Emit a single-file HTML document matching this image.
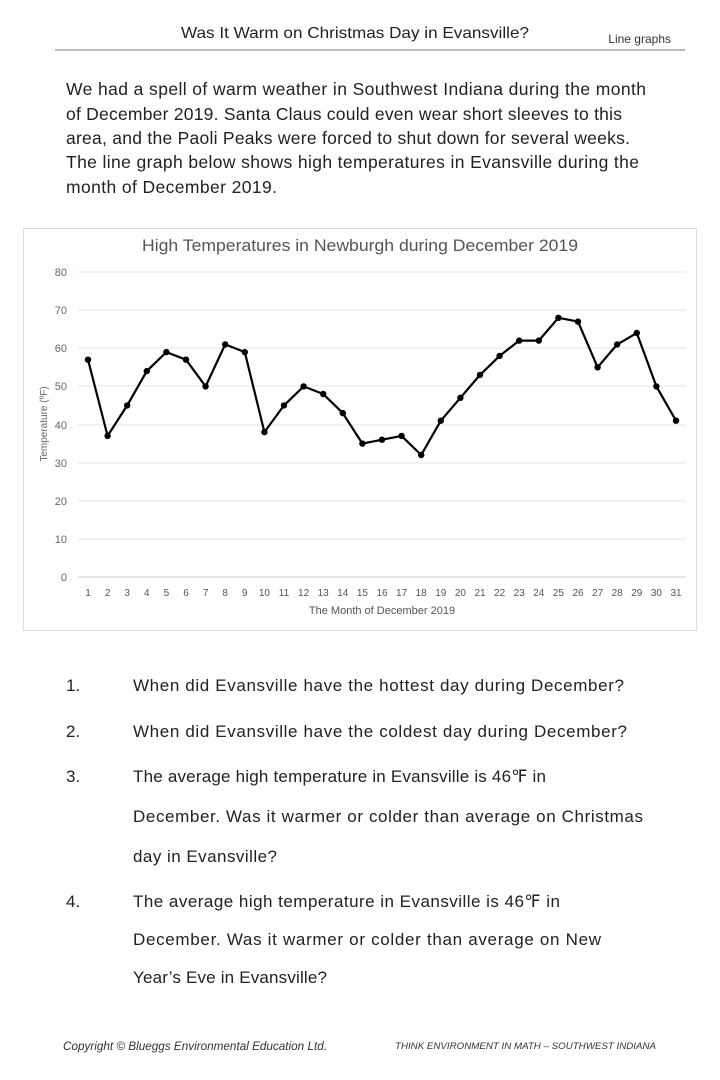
<!DOCTYPE html>
<html><head><meta charset="utf-8"><style>
html,body{margin:0;padding:0;background:#fff}
svg{display:block}
text{font-family:"Liberation Sans",sans-serif}
</style></head><body>
<svg width="720" height="1080" viewBox="0 0 720 1080" xmlns="http://www.w3.org/2000/svg">
<text x="181" y="38" font-size="16" textLength="348" lengthAdjust="spacingAndGlyphs" fill="#222">Was It Warm on Christmas Day in Evansville?</text>
<text x="671" y="43" font-size="12" text-anchor="end" fill="#333">Line graphs</text>
<line x1="55" y1="50" x2="685" y2="50" stroke="#777" stroke-width="1"/>
<g font-size="17.5" fill="#222" lengthAdjust="spacingAndGlyphs">
<text x="66" y="95" textLength="580">We had a spell of warm weather in Southwest Indiana during the month</text>
<text x="66" y="120" textLength="556">of December 2019. Santa Claus could even wear short sleeves to this</text>
<text x="66" y="144" textLength="564">area, and the Paoli Peaks were forced to shut down for several weeks.</text>
<text x="66" y="168" textLength="573">The line graph below shows high temperatures in Evansville during the</text>
<text x="66" y="193" textLength="211">month of December 2019.</text>
</g>
<rect x="23.5" y="228.5" width="673" height="402" fill="#fff" stroke="#ddd"/>
<text x="142" y="251" font-size="17" textLength="436" lengthAdjust="spacingAndGlyphs" fill="#555">High Temperatures in Newburgh during December 2019</text>
<g stroke="#e4e4e4" stroke-width="1">
<line x1="78" x2="686" y1="272" y2="272"/><line x1="78" x2="686" y1="310" y2="310"/>
<line x1="78" x2="686" y1="348" y2="348"/><line x1="78" x2="686" y1="386" y2="386"/>
<line x1="78" x2="686" y1="425" y2="425"/><line x1="78" x2="686" y1="463" y2="463"/>
<line x1="78" x2="686" y1="501" y2="501"/><line x1="78" x2="686" y1="539" y2="539"/>
<line x1="78" x2="686" y1="577" y2="577" stroke="#ccc"/>
</g>
<g font-size="11" fill="#666" text-anchor="end">
<text x="67" y="276">80</text><text x="67" y="314">70</text><text x="67" y="352">60</text>
<text x="67" y="390">50</text><text x="67" y="429">40</text><text x="67" y="467">30</text>
<text x="67" y="505">20</text><text x="67" y="543">10</text><text x="67" y="581">0</text>
</g>
<text transform="translate(47,424) rotate(-90)" font-size="10" fill="#666" text-anchor="middle">Temperature (ºF)</text>
<g font-size="10" fill="#555" text-anchor="middle">
<text x="88" y="596">1</text><text x="107.6" y="596">2</text><text x="127.2" y="596">3</text><text x="146.8" y="596">4</text><text x="166.4" y="596">5</text><text x="186" y="596">6</text><text x="205.6" y="596">7</text><text x="225.2" y="596">8</text><text x="244.8" y="596">9</text><text x="264.4" y="596">10</text><text x="284" y="596">11</text><text x="303.6" y="596">12</text><text x="323.2" y="596">13</text><text x="342.8" y="596">14</text><text x="362.4" y="596">15</text><text x="382" y="596">16</text><text x="401.6" y="596">17</text><text x="421.2" y="596">18</text><text x="440.8" y="596">19</text><text x="460.4" y="596">20</text><text x="480" y="596">21</text><text x="499.6" y="596">22</text><text x="519.2" y="596">23</text><text x="538.8" y="596">24</text><text x="558.4" y="596">25</text><text x="578" y="596">26</text><text x="597.6" y="596">27</text><text x="617.2" y="596">28</text><text x="636.8" y="596">29</text><text x="656.4" y="596">30</text><text x="676" y="596">31</text>
</g>
<text x="382" y="614" font-size="11" fill="#555" text-anchor="middle">The Month of December 2019</text>
<polyline fill="none" stroke="#000" stroke-width="2.2" stroke-linejoin="round" points="88,359.7 107.6,435.9 127.2,405.4 146.8,371.1 166.4,352.1 186,359.7 205.6,386.4 225.2,344.4 244.8,352.1 264.4,432.1 284,405.4 303.6,386.4 323.2,394 342.8,413.1 362.4,443.6 382,439.7 401.6,435.9 421.2,455 440.8,420.7 460.4,397.8 480,374.9 499.6,355.9 519.2,340.6 538.8,340.6 558.4,317.8 578,321.6 597.6,367.3 617.2,344.4 636.8,333 656.4,386.4 676,420.7"/>
<g fill="#000">
<circle cx="88" cy="359.7" r="3.2"/><circle cx="107.6" cy="435.9" r="3.2"/><circle cx="127.2" cy="405.4" r="3.2"/><circle cx="146.8" cy="371.1" r="3.2"/><circle cx="166.4" cy="352.1" r="3.2"/><circle cx="186" cy="359.7" r="3.2"/><circle cx="205.6" cy="386.4" r="3.2"/><circle cx="225.2" cy="344.4" r="3.2"/><circle cx="244.8" cy="352.1" r="3.2"/><circle cx="264.4" cy="432.1" r="3.2"/><circle cx="284" cy="405.4" r="3.2"/><circle cx="303.6" cy="386.4" r="3.2"/><circle cx="323.2" cy="394" r="3.2"/><circle cx="342.8" cy="413.1" r="3.2"/><circle cx="362.4" cy="443.6" r="3.2"/><circle cx="382" cy="439.7" r="3.2"/><circle cx="401.6" cy="435.9" r="3.2"/><circle cx="421.2" cy="455" r="3.2"/><circle cx="440.8" cy="420.7" r="3.2"/><circle cx="460.4" cy="397.8" r="3.2"/><circle cx="480" cy="374.9" r="3.2"/><circle cx="499.6" cy="355.9" r="3.2"/><circle cx="519.2" cy="340.6" r="3.2"/><circle cx="538.8" cy="340.6" r="3.2"/><circle cx="558.4" cy="317.8" r="3.2"/><circle cx="578" cy="321.6" r="3.2"/><circle cx="597.6" cy="367.3" r="3.2"/><circle cx="617.2" cy="344.4" r="3.2"/><circle cx="636.8" cy="333" r="3.2"/><circle cx="656.4" cy="386.4" r="3.2"/><circle cx="676" cy="420.7" r="3.2"/>
</g>
<g font-size="17" fill="#222" lengthAdjust="spacingAndGlyphs">
<text x="66" y="691">1.</text><text x="133" y="691" textLength="491">When did Evansville have the hottest day during December?</text>
<text x="66" y="737">2.</text><text x="133" y="737" textLength="494">When did Evansville have the coldest day during December?</text>
<text x="66" y="782">3.</text><text x="133" y="782" textLength="413">The average high temperature in Evansville is 46℉ in</text>
<text x="133" y="822" textLength="510">December. Was it warmer or colder than average on Christmas</text>
<text x="133" y="862" textLength="144">day in Evansville?</text>
<text x="66" y="907">4.</text><text x="133" y="907" textLength="427">The average high temperature in Evansville is 46℉ in</text>
<text x="133" y="945" textLength="468">December. Was it warmer or colder than average on New</text>
<text x="133" y="983" textLength="194">Year’s Eve in Evansville?</text>
</g>
<text x="63" y="1050" font-size="12" font-style="italic" fill="#333" textLength="264" lengthAdjust="spacingAndGlyphs">Copyright © Blueggs Environmental Education Ltd.</text>
<text x="395" y="1049" font-size="9.5" font-style="italic" fill="#333" textLength="261" lengthAdjust="spacingAndGlyphs">THINK ENVIRONMENT IN MATH – SOUTHWEST INDIANA</text>
</svg>
</body></html>
